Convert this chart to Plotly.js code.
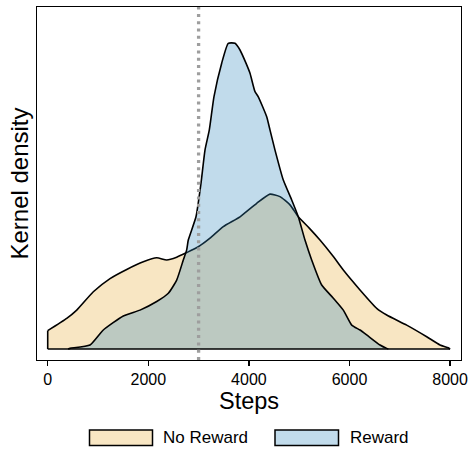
<!DOCTYPE html>
<html>
<head>
<meta charset="utf-8">
<script src="https://cdn.plot.ly/plotly-3.0.1.min.js"></script>
<style>html,body{margin:0;padding:0;background:#fff;}#chart{width:471px;height:450px;}</style>
</head>
<body>
<div id="chart"></div>
<script>
// ---- data (density in arbitrary units, peak = 1) ----
const noRewardSteps   = [0, 378, 577, 907, 1239, 1571, 1901, 2167, 2366, 2564, 2763, 2994, 3227, 3491, 3823, 4155, 4419, 4618, 4817, 4982, 5200, 5413, 5679, 5877, 6209, 6541, 6740, 7137, 7535, 7799, 7964, 8000];
const noRewardDensity = [0.060, 0.100, 0.127, 0.187, 0.230, 0.260, 0.285, 0.298, 0.291, 0.300, 0.315, 0.334, 0.362, 0.400, 0.432, 0.476, 0.506, 0.498, 0.471, 0.432, 0.395, 0.356, 0.302, 0.258, 0.193, 0.133, 0.111, 0.078, 0.040, 0.013, 0.004, 0];

const rewardSteps   = [404, 443, 841, 1105, 1503, 1835, 2167, 2398, 2564, 2696, 2763, 2795, 2948, 3048, 3127, 3213, 3306, 3459, 3590, 3724, 3823, 3942, 4022, 4121, 4187, 4354, 4419, 4519, 4684, 4851, 4982, 5115, 5248, 5447, 5679, 5877, 6044, 6210, 6342, 6607, 6740, 6773];
const rewardDensity = [0, 0.002, 0.013, 0.062, 0.108, 0.127, 0.155, 0.182, 0.225, 0.291, 0.324, 0.356, 0.432, 0.542, 0.650, 0.716, 0.825, 0.934, 0.999, 0.999, 0.977, 0.934, 0.901, 0.841, 0.824, 0.759, 0.716, 0.650, 0.552, 0.487, 0.432, 0.356, 0.291, 0.209, 0.166, 0.127, 0.078, 0.062, 0.046, 0.013, 0.002, 0];

const groupNames = ['No Reward', 'Reward'];
const thresholdStep = 3000;
const xTickValues = [0, 2000, 4000, 6000, 8000];
const xTickLabels = ['0', '2000', '4000', '6000', '8000'];

// ---- styling ----
const FONT = 'Liberation Sans, Arial, Helvetica, sans-serif';
const fillColors = ['rgba(232,172,55,0.3)', 'rgba(50,136,189,0.3)'];
const LINE_W = 1.6;

const traces = [
  {
    x: noRewardSteps, y: noRewardDensity,
    type: 'scatter', mode: 'lines', fill: 'tozeroy',
    fillcolor: fillColors[0],
    line: {color: '#000', width: LINE_W, shape: 'spline', smoothing: 0.5},
    name: groupNames[0], hoverinfo: 'skip', showlegend: false
  },
  {
    x: rewardSteps, y: rewardDensity,
    type: 'scatter', mode: 'lines', fill: 'tozeroy',
    fillcolor: fillColors[1],
    line: {color: '#000', width: LINE_W, shape: 'spline', smoothing: 0.5},
    name: groupNames[1], hoverinfo: 'skip', showlegend: false
  }
];

// plot-area geometry (px) used to place the hand-drawn legend
const W = 471, H = 450, mL = 37, mR = 10, mT = 7, mB = 90;
const pw = W - mL - mR, ph = H - mT - mB;
const px2x = p => (p - mL) / pw;
const py2y = p => (H - mB - p) / ph;

const allSteps = noRewardSteps.concat(rewardSteps);
const shapes = [
  // outline of the density polygons: baseline and the left edge of the No Reward curve
  {type: 'line', xref: 'x', yref: 'y', x0: Math.min(...allSteps), x1: Math.max(...allSteps), y0: 0, y1: 0,
   line: {color: '#000', width: LINE_W}, layer: 'above'},
  {type: 'line', xref: 'x', yref: 'y', x0: noRewardSteps[0], x1: noRewardSteps[0], y0: 0, y1: noRewardDensity[0],
   line: {color: '#000', width: LINE_W}, layer: 'above'},
  {type: 'line', xref: 'x', yref: 'paper', x0: thresholdStep, x1: thresholdStep, y0: 0, y1: 1,
   line: {color: '#9E9E9E', width: 3.3, dash: '3px,4.3px'}, layer: 'above'}
];
const annotations = [];
const legendBoxes = [[89.5, 152.5], [275, 338.5]];
const legendTextX = [161, 348];
for (let i = 0; i < 2; i++) {
  shapes.push({type: 'rect', xref: 'paper', yref: 'paper',
    x0: px2x(legendBoxes[i][0]), x1: px2x(legendBoxes[i][1]),
    y0: py2y(430), y1: py2y(445.5),
    fillcolor: fillColors[i], line: {color: '#000', width: 1.5}});
  annotations.push({xref: 'paper', yref: 'paper', x: px2x(legendTextX[i]), y: py2y(437.5),
    xanchor: 'left', yanchor: 'middle', showarrow: false, text: groupNames[i],
    font: {family: FONT, size: 17, color: '#000'}});
}

const layout = {
  width: W, height: H,
  margin: {l: mL, r: mR, t: mT, b: mB, pad: 0},
  paper_bgcolor: '#fff', plot_bgcolor: '#fff',
  showlegend: false,
  font: {family: FONT, color: '#000'},
  xaxis: {
    range: [-213, 8217], showgrid: false, zeroline: false,
    showline: true, mirror: true, linecolor: '#000', linewidth: 1.2,
    ticks: 'outside', ticklen: 5, tickwidth: 1.2, tickcolor: '#000',
    tickvals: xTickValues, ticktext: xTickLabels,
    tickfont: {family: FONT, size: 16, color: '#000'},
    title: {text: 'Steps', font: {family: FONT, size: 23.5, color: '#000'}, standoff: 1},
    automargin: false, fixedrange: true
  },
  yaxis: {
    range: [-0.036, 1.1176], showgrid: false, zeroline: false,
    showline: true, mirror: true, linecolor: '#000', linewidth: 1.2,
    ticks: '', showticklabels: false,
    title: {text: 'Kernel density', font: {family: FONT, size: 24, color: '#000'}, standoff: 0},
    automargin: false, fixedrange: true
  },
  shapes: shapes,
  annotations: annotations
};

Plotly.newPlot('chart', traces, layout, {displayModeBar: false, staticPlot: true});
</script>
</body>
</html>
